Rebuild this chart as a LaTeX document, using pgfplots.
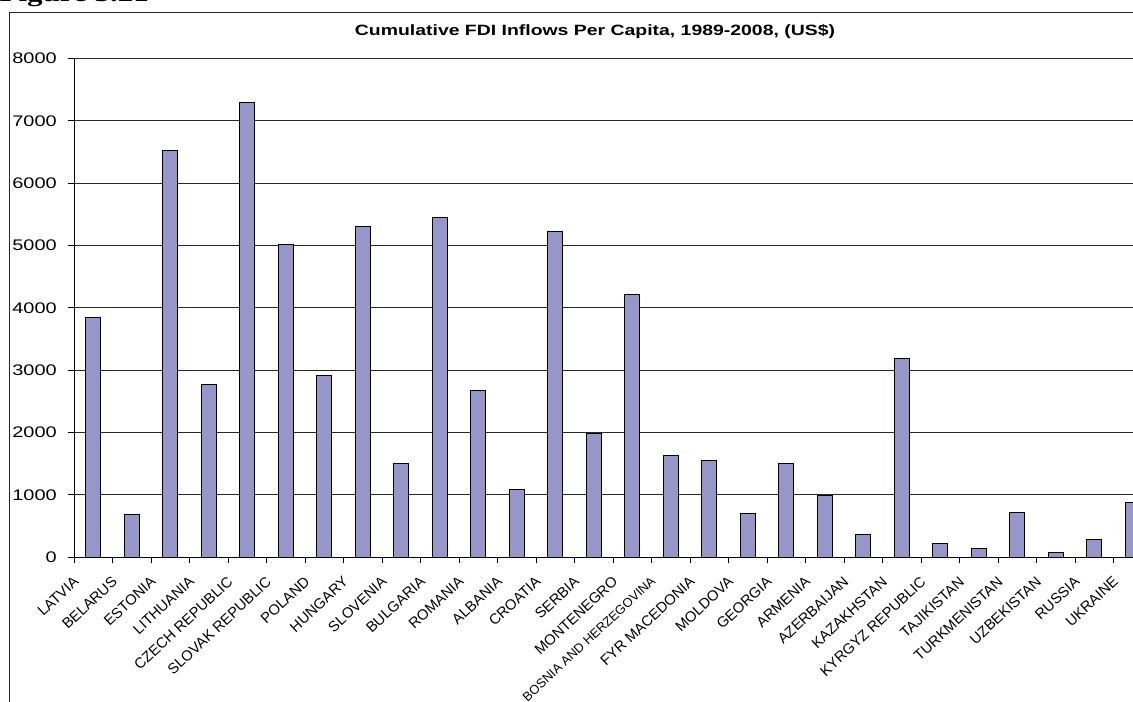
\documentclass[border=0pt]{standalone}
\usepackage{fontspec}
\usepackage{pgfplots}
\pgfplotsset{compat=1.18}
\setmainfont{Liberation Sans}
\newfontfamily\widesans{Liberation Sans}[FakeStretch=1.3]
\newfontfamily\widefig{Liberation Serif}[FakeStretch=1.3]
\definecolor{barfill}{RGB}{150,150,201}
\definecolor{gridcol}{RGB}{40,40,40}

\begin{document}
\begin{tikzpicture}
  % page area
  \useasboundingbox (0,0) rectangle (849.75pt,526.5pt);

  % figure caption, partly above the page edge
  \node[anchor=base west, inner sep=0pt] at (-0.5pt,525.3pt)
    {\widefig\bfseries\fontsize{17.9pt}{20pt}\selectfont Figure 3.21};

  % chart frame
  \draw[line width=0.75pt, black!85] (7.1pt,-10pt) -- (7.1pt,517pt) -- (870pt,517pt);

  % chart title
  \node[anchor=base, inner sep=0pt] at (446.25pt,499.9pt)
    {\widesans\bfseries\fontsize{11.2pt}{13pt}\selectfont Cumulative FDI Inflows Per Capita, 1989-2008, (US\$)};

  \begin{axis}[
    at={(55.5pt,108.5pt)}, anchor=south west,
    scale only axis,
    width=808.5pt, height=374.1pt,
    xmin=-0.5, xmax=27.5,
    ymin=0, ymax=8000,
    axis x line*=bottom, axis y line*=left,
    axis line style={-, black, line width=0.75pt},
    ytick={0,1000,...,8000},
    ymajorgrids,
    major grid style={gridcol, line width=0.75pt},
    tick align=outside,
    major tick length=4.5pt,
    tick style={black, line width=0.75pt},
    xtick={-0.5,0.5,...,27.5},
    xticklabels={},
    extra x ticks={0,1,...,27},
    extra x tick labels={LATVIA, BELARUS, ESTONIA, LITHUANIA, CZECH REPUBLIC, SLOVAK REPUBLIC, POLAND, HUNGARY, SLOVENIA, BULGARIA, ROMANIA, ALBANIA, CROATIA, SERBIA, MONTENEGRO, {\fontsize{9.6pt}{11pt}\selectfont BOSNIA AND HERZEGOVINA}, FYR MACEDONIA, MOLDOVA, GEORGIA, ARMENIA, AZERBAIJAN, KAZAKHSTAN, KYRGYZ REPUBLIC, TAJIKISTAN, TURKMENISTAN, UZBEKISTAN, RUSSIA, UKRAINE},
    extra x tick style={major tick length=0pt, grid=none},
    xticklabel style={font=\fontsize{11pt}{13pt}\selectfont, inner sep=0pt,
      xshift=-15.5pt, yshift=-13.5pt, rotate=43, anchor=north east},
    yticklabel style={font=\widesans\fontsize{11.5pt}{13pt}\selectfont,
      inner sep=0pt, anchor=east, xshift=-8.25pt},
    /pgf/number format/.cd, 1000 sep={}, assume math mode=true,
  ]
    \addplot[ybar, bar width=11.25pt, fill=barfill, draw=black, line width=0.75pt]
      coordinates {
        (0,3852) (1,690) (2,6522) (3,2766) (4,7287) (5,5019) (6,2910)
        (7,5308) (8,1512) (9,5457) (10,2675) (11,1081) (12,5222) (13,1990)
        (14,4216) (15,1627) (16,1557) (17,701) (18,1502) (19,984)
        (20,364) (21,3183) (22,220) (23,144) (24,717) (25,80) (26,289)
        (27,878)
      };
  \end{axis}
\end{tikzpicture}
\end{document}
